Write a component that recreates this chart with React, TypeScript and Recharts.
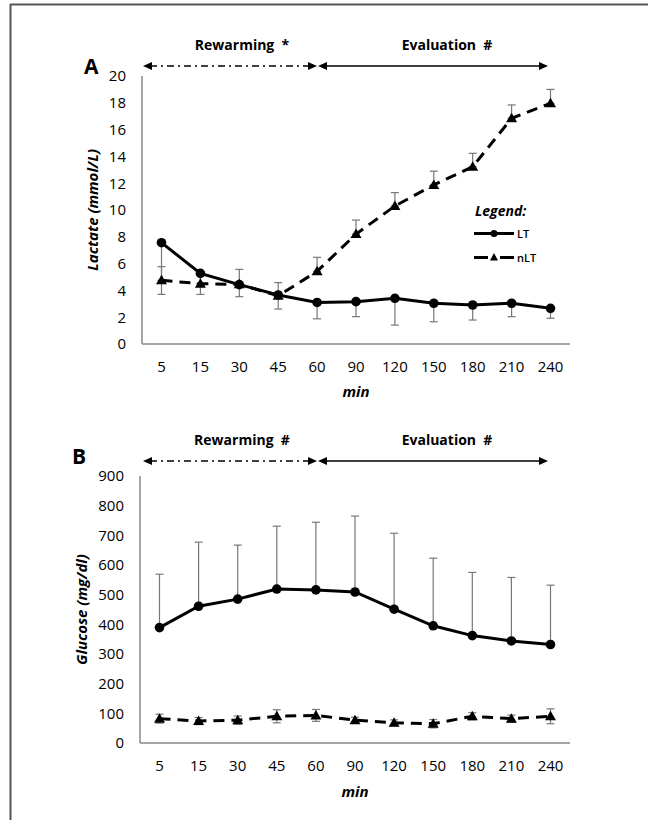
import React from 'react';
import { ComposedChart, Line, XAxis, YAxis, ErrorBar } from 'recharts';

const categories = ['5', '15', '30', '45', '60', '90', '120', '150', '180', '210', '240'];

const lactateLT = [7.56, 5.27, 4.43, 3.66, 3.1, 3.16, 3.41, 3.04, 2.91, 3.04, 2.66];
const lactateLTErrMinus = [3.86, 1.57, 0.9, 1.05, 1.22, 1.12, 2.0, 1.38, 1.12, 1.0, 0.74];
const lactateNLT = [4.75, 4.5, 4.45, 3.6, 5.42, 8.2, 10.3, 11.87, 13.23, 16.84, 17.96];
const lactateNLTErrPlus = [1.02, 0.8, 1.12, 0.98, 1.05, 1.05, 1.0, 1.03, 1.0, 1.0, 1.04];

const glucoseLT = [389, 461, 485, 519, 516, 509, 451, 395, 362, 344, 332];
const glucoseLTErrPlus = [180, 216, 182, 212, 228, 256, 256, 228, 213, 214, 200];
const glucoseNLT = [82, 74, 77, 90, 93, 77, 68, 65, 90, 82, 90];
const glucoseNLTErr = [15, 12, 14, 22, 20, 10, 10, 14, 12, 12, 25];

const lactateTicks = [0, 2, 4, 6, 8, 10, 12, 14, 16, 18, 20];
const glucoseTicks = [0, 100, 200, 300, 400, 500, 600, 700, 800, 900];

const lactateData = categories.map((c, i) => ({
  min: c,
  LT: lactateLT[i],
  ltErr: [lactateLTErrMinus[i], 0],
  nLT: lactateNLT[i],
  nltErr: [0, lactateNLTErrPlus[i]],
}));

const glucoseData = categories.map((c, i) => ({
  min: c,
  LT: glucoseLT[i],
  ltErr: [0, glucoseLTErrPlus[i]],
  nLT: glucoseNLT[i],
  nltErr: [glucoseNLTErr[i], glucoseNLTErr[i]],
}));

const FONT = '"Open Sans", sans-serif';

const Triangle = (props: any) => {
  const { cx, cy } = props;
  if (cx == null || cy == null) return null;
  return <polygon points={`${cx},${cy - 5.5} ${cx + 5.5},${cy + 4} ${cx - 5.5},${cy + 4}`} fill="#000" />;
};

const Circle = (props: any) => {
  const { cx, cy } = props;
  if (cx == null || cy == null) return null;
  return <circle cx={cx} cy={cy} r={4.8} fill="#000" />;
};

const tickStyle = { fontFamily: FONT, fontSize: 15, fill: '#000' };
const labelStyle = { fontFamily: FONT, fontSize: 15, fontWeight: 700, fontStyle: 'italic', fill: '#000' } as any;

const arrowHead = (x: number, y: number, dir: number, key: string) => (
  <polygon key={key} points={`${x},${y} ${x - dir * 9},${y - 4} ${x - dir * 9},${y + 4}`} fill="#000" />
);

const Annotations = () => {
  const rows = [
    { textY: 50, arrowY: 66, r: 'Rewarming  *', e: 'Evaluation  #' },
    { textY: 445, arrowY: 461, r: 'Rewarming  #', e: 'Evaluation  #' },
  ];
  return (
    <svg width={648} height={820} style={{ position: 'absolute', left: 0, top: 0, pointerEvents: 'none' }}>
      <line x1={10.5} y1={4} x2={10.5} y2={820} stroke="#555" strokeWidth={2} />
      <line x1={10} y1={4.5} x2={648} y2={4.5} stroke="#555" strokeWidth={2} />
      <text x={84} y={74} fontFamily={FONT} fontSize={21} fontWeight={700} fill="#000">A</text>
      <text x={72} y={464} fontFamily={FONT} fontSize={21} fontWeight={700} fill="#000">B</text>
      {rows.map((r, i) => (
        <g key={i}>
          <text x={242} y={r.textY} textAnchor="middle" fontFamily={FONT} fontSize={14} fontWeight={700} fill="#000" style={{ whiteSpace: 'pre' }}>{r.r}</text>
          <text x={447} y={r.textY} textAnchor="middle" fontFamily={FONT} fontSize={14} fontWeight={700} fill="#000" style={{ whiteSpace: 'pre' }}>{r.e}</text>
          <line x1={150} y1={r.arrowY} x2={308} y2={r.arrowY} stroke="#000" strokeWidth={1.6} strokeDasharray="7 4 2 4" />
          {arrowHead(143, r.arrowY, -1, 'a')}
          {arrowHead(317, r.arrowY, 1, 'b')}
          <line x1={326} y1={r.arrowY} x2={540} y2={r.arrowY} stroke="#000" strokeWidth={1.6} />
          {arrowHead(318, r.arrowY, -1, 'c')}
          {arrowHead(548, r.arrowY, 1, 'd')}
        </g>
      ))}
      <g>
        <text x={475} y={216} fontFamily={FONT} fontSize={14} fontWeight={700} fontStyle="italic" fill="#000">Legend:</text>
        <line x1={474} y1={233.5} x2={514} y2={233.5} stroke="#000" strokeWidth={3} />
        <circle cx={494} cy={233.5} r={3.5} fill="#000" />
        <text x={517} y={237.5} fontFamily={FONT} fontSize={11} fontWeight={600} fill="#000">LT</text>
        <line x1={474} y1={257.5} x2={488} y2={257.5} stroke="#000" strokeWidth={3} />
        <line x1={500} y1={257.5} x2={514} y2={257.5} stroke="#000" strokeWidth={3} />
        <polygon points="494,253 498,260.5 490,260.5" fill="#000" />
        <text x={517} y={261.5} fontFamily={FONT} fontSize={11} fontWeight={600} fill="#000">nLT</text>
      </g>
    </svg>
  );
};

const xAxisCommon = {
  dataKey: 'min',
  height: 30,
  tickLine: false,
  tickSize: 0,
  tickMargin: 17,
  axisLine: { stroke: '#888', strokeWidth: 1.5 },
  tick: tickStyle,
  interval: 0,
  padding: { left: 19.5, right: 19.5 },
} as any;

const yAxisCommon = {
  width: 60,
  interval: 0,
  tickLine: false,
  tickSize: 0,
  tickMargin: 16,
  axisLine: { stroke: '#888', strokeWidth: 1.5 },
  tick: tickStyle,
} as any;

export default function App() {
  return (
    <div style={{ position: 'absolute', left: 0, top: 0, width: 648, height: 820, background: '#fff', fontFamily: FONT }}>
      <div style={{ position: 'absolute', left: 0, top: 0 }}>
        <ComposedChart width={648} height={400} data={lactateData} margin={{ top: 76, right: 78, left: 82, bottom: 26 }}>
          <XAxis {...xAxisCommon} label={{ value: 'min', position: 'bottom', offset: 12, style: labelStyle }} />
          <YAxis
            {...yAxisCommon}
            domain={[0, 20]}
            ticks={lactateTicks}
            label={{ value: 'Lactate (mmol/L)', angle: -90, position: 'insideLeft', offset: 11, style: { ...labelStyle, textAnchor: 'middle' } }}
          />
          <Line dataKey="nLT" name="nLT" stroke="#000" strokeWidth={3} strokeDasharray="11 7" dot={<Triangle />} activeDot={false} isAnimationActive={false}>
            <ErrorBar dataKey="nltErr" width={4} stroke="#777" strokeWidth={1.2} />
          </Line>
          <Line dataKey="LT" name="LT" stroke="#000" strokeWidth={3} dot={<Circle />} activeDot={false} isAnimationActive={false}>
            <ErrorBar dataKey="ltErr" width={4} stroke="#777" strokeWidth={1.2} />
          </Line>
        </ComposedChart>
      </div>
      <div style={{ position: 'absolute', left: 0, top: 400 }}>
        <ComposedChart width={648} height={420} data={glucoseData} margin={{ top: 76, right: 78, left: 80, bottom: 47 }}>
          <XAxis {...xAxisCommon} label={{ value: 'min', position: 'bottom', offset: 13, style: labelStyle }} />
          <YAxis
            {...yAxisCommon}
            domain={[0, 900]}
            ticks={glucoseTicks}
            label={{ value: 'Glucose (mg/dl)', angle: -90, position: 'insideLeft', offset: 2, style: { ...labelStyle, textAnchor: 'middle' } }}
          />
          <Line dataKey="nLT" name="nLT" stroke="#000" strokeWidth={3} strokeDasharray="11 7" dot={<Triangle />} activeDot={false} isAnimationActive={false}>
            <ErrorBar dataKey="nltErr" width={4} stroke="#777" strokeWidth={1.2} />
          </Line>
          <Line dataKey="LT" name="LT" stroke="#000" strokeWidth={3} dot={<Circle />} activeDot={false} isAnimationActive={false}>
            <ErrorBar dataKey="ltErr" width={4} stroke="#777" strokeWidth={1.2} />
          </Line>
        </ComposedChart>
      </div>
      <Annotations />
    </div>
  );
}
